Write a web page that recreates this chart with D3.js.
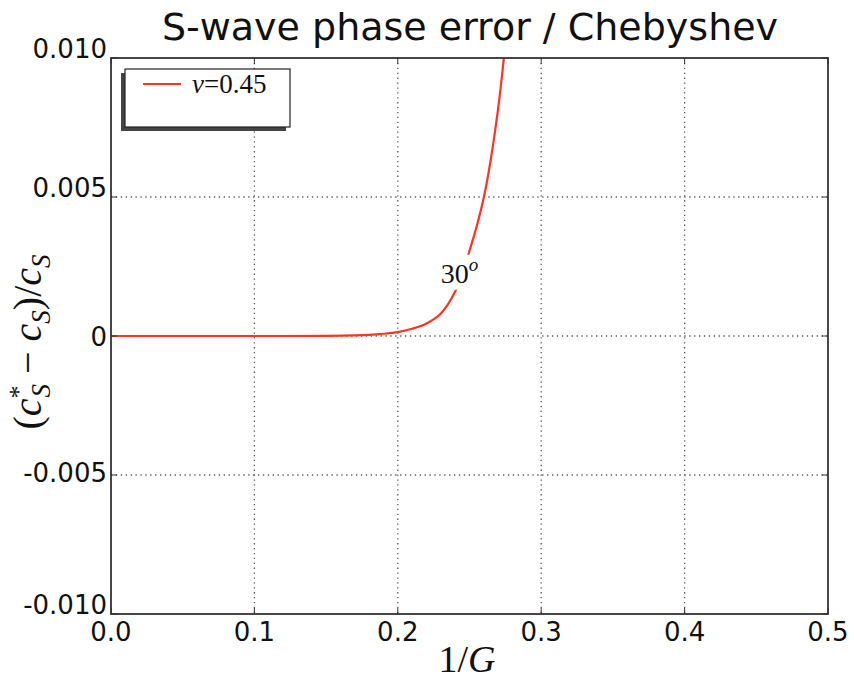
<!DOCTYPE html>
<html>
<head>
<meta charset="utf-8">
<script src="https://cdn.jsdelivr.net/npm/d3@7"></script>
<style>
  body { margin: 0; background: #fff; }
  svg { display: block; }
</style>
</head>
<body>
<svg id="chart"></svg>
<script>
// data
const invG = [0, 0.05, 0.10, 0.15, 0.17, 0.18, 0.19, 0.20, 0.21, 0.22, 0.23, 0.24, 0.25, 0.26, 0.27, 0.28];
const phaseErr = [0, 0, 0, 0.000005, 0.00002, 0.00004, 0.00008, 0.00014, 0.00026, 0.00045, 0.00081, 0.00160, 0.00306, 0.00499, 0.0082, 0.0133];
const xTicks = [0.0, 0.1, 0.2, 0.3, 0.4, 0.5];
const xTickLabels = ["0.0", "0.1", "0.2", "0.3", "0.4", "0.5"];
const yTicks = [-0.010, -0.005, 0, 0.005, 0.010];
const yTickLabels = ["-0.010", "-0.005", "0", "0.005", "0.010"];
const seriesName = "0.45";
const curveLabel = "30";

const width = 854, height = 684;
const margin = { left: 111, right: 26, top: 58, bottom: 70 };
const red = "#ff3322";

const svg = d3.select("#chart").attr("width", width).attr("height", height);

const x = d3.scaleLinear().domain([0, 0.5]).range([margin.left, width - margin.right]);
const y = d3.scaleLinear().domain([-0.010, 0.010]).range([height - margin.bottom, margin.top]);

const x0 = x.range()[0], x1 = x.range()[1];
const y0 = y.range()[0], y1 = y.range()[1];

// clip for plot area
svg.append("clipPath").attr("id", "plotclip")
  .append("rect").attr("x", x0).attr("y", y1).attr("width", x1 - x0).attr("height", y0 - y1);

// grid (dotted)
const grid = svg.append("g").attr("stroke", "#555").attr("stroke-width", 1.3).attr("stroke-dasharray", "1.3,3.6");
grid.selectAll("line.gx").data(xTicks.slice(1, -1)).enter().append("line")
  .attr("x1", (d) => x(d)).attr("x2", (d) => x(d)).attr("y1", y1).attr("y2", y0);
grid.selectAll("line.gy").data(yTicks.slice(1, -1)).enter().append("line")
  .attr("x1", x0).attr("x2", x1).attr("y1", (d) => y(d)).attr("y2", (d) => y(d));

// label on the curve (placed first so we can mask the line around it)
const lbl = svg.append("text")
  .attr("x", x(0.2395) + 5).attr("y", y(0.0017) - 6)
  .attr("text-anchor", "middle")
  .attr("font-family", "'Liberation Serif', 'DejaVu Serif', serif")
  .attr("font-size", 28).attr("fill", "#111");
lbl.append("tspan").text(curveLabel);
lbl.append("tspan").attr("font-size", 19).attr("dy", -12).attr("font-style", "italic").text("o");
const bb = lbl.node().getBBox();

const mask = svg.append("mask").attr("id", "lblmask");
mask.append("rect").attr("x", 0).attr("y", 0).attr("width", width).attr("height", height).attr("fill", "#fff");
mask.append("rect").attr("x", bb.x - 2).attr("y", bb.y + 1).attr("width", bb.width + 4).attr("height", bb.height).attr("fill", "#000");

const line = d3.line().x((d, i) => x(invG[i])).y((d) => y(d)).curve(d3.curveCatmullRom.alpha(0.5));

svg.append("g").attr("clip-path", "url(#plotclip)")
  .append("path")
  .datum(phaseErr)
  .attr("d", line)
  .attr("fill", "none")
  .attr("stroke", red)
  .attr("stroke-width", 2.2)
  .attr("mask", "url(#lblmask)");

// frame
svg.append("rect").attr("x", x0).attr("y", y1).attr("width", x1 - x0).attr("height", y0 - y1)
  .attr("fill", "none").attr("stroke", "#333").attr("stroke-width", 1.8);

// inward ticks on all four sides
const tickLen = 6;
const ticks = svg.append("g").attr("stroke", "#333").attr("stroke-width", 1);
xTicks.forEach((t) => {
  ticks.append("line").attr("x1", x(t)).attr("x2", x(t)).attr("y1", y0).attr("y2", y0 - tickLen);
  ticks.append("line").attr("x1", x(t)).attr("x2", x(t)).attr("y1", y1).attr("y2", y1 + tickLen);
});
yTicks.forEach((t) => {
  ticks.append("line").attr("x1", x0).attr("x2", x0 + tickLen).attr("y1", y(t)).attr("y2", y(t));
  ticks.append("line").attr("x1", x1).attr("x2", x1 - tickLen).attr("y1", y(t)).attr("y2", y(t));
});

// tick labels
const sans = "'DejaVu Sans', sans-serif";
svg.selectAll("text.xt").data(xTicks).enter().append("text")
  .attr("x", (d) => x(d)).attr("y", y0 + 27)
  .attr("text-anchor", "middle").attr("font-family", sans).attr("font-size", 26).attr("fill", "#111")
  .text((d, i) => xTickLabels[i]);
// the reference sits most labels on the tick, "0" centred on it
const yShift = (d) => (d === 0 ? 10 : d === -0.005 ? 7 : 0);
svg.selectAll("text.yt").data(yTicks).enter().append("text")
  .attr("x", x0 - 4).attr("y", (d) => y(d) + yShift(d))
  .attr("text-anchor", "end").attr("font-family", sans).attr("font-size", 26).attr("fill", "#111")
  .text((d, i) => yTickLabels[i]);

// title
svg.append("text").attr("x", 470).attr("y", 40)
  .attr("text-anchor", "middle").attr("font-family", sans).attr("font-size", 38).attr("fill", "#111")
  .text("S-wave phase error / Chebyshev");

// x axis label 1/G
const serif = "'Liberation Serif', 'DejaVu Serif', serif";
const xl = svg.append("text").attr("x", 467).attr("y", 672)
  .attr("text-anchor", "middle").attr("font-family", serif).attr("font-size", 38).attr("fill", "#111");
xl.append("tspan").text("1/");
xl.append("tspan").attr("font-style", "italic").text("G");

// y axis label (c*_S - c_S)/c_S
const yl = svg.append("text")
  .attr("transform", "translate(41,342) rotate(-90)")
  .attr("text-anchor", "middle").attr("font-family", serif).attr("font-size", 40).attr("fill", "#111");
yl.append("tspan").text("(");
yl.append("tspan").attr("font-style", "italic").text("c");
yl.append("tspan").attr("font-size", 26).attr("dy", -14).text("*");
yl.append("tspan").attr("font-size", 27).attr("font-style", "italic").attr("dx", -12).attr("dy", 23).text("S");
yl.append("tspan").attr("dy", -9).text(" \u2212 ");
yl.append("tspan").attr("font-style", "italic").text("c");
yl.append("tspan").attr("font-size", 27).attr("font-style", "italic").attr("dy", 9).text("S");
yl.append("tspan").attr("dy", -9).text(")/");
yl.append("tspan").attr("font-style", "italic").text("c");
yl.append("tspan").attr("font-size", 27).attr("font-style", "italic").attr("dy", 9).text("S");

// legend with shadow
const lg = svg.append("g");
lg.append("rect").attr("x", 121).attr("y", 73).attr("width", 165).attr("height", 58).attr("fill", "#444");
lg.append("rect").attr("x", 125).attr("y", 69).attr("width", 165).attr("height", 58)
  .attr("fill", "#fff").attr("stroke", "#222").attr("stroke-width", 1.2);
lg.append("line").attr("x1", 143).attr("x2", 181).attr("y1", 84).attr("y2", 84)
  .attr("stroke", red).attr("stroke-width", 2.2);
const lt = lg.append("text").attr("x", 192).attr("y", 93)
  .attr("font-family", serif).attr("font-size", 27).attr("fill", "#111");
lt.append("tspan").attr("font-style", "italic").text("\u03bd");
lt.append("tspan").text("=" + seriesName);
</script>
</body>
</html>
